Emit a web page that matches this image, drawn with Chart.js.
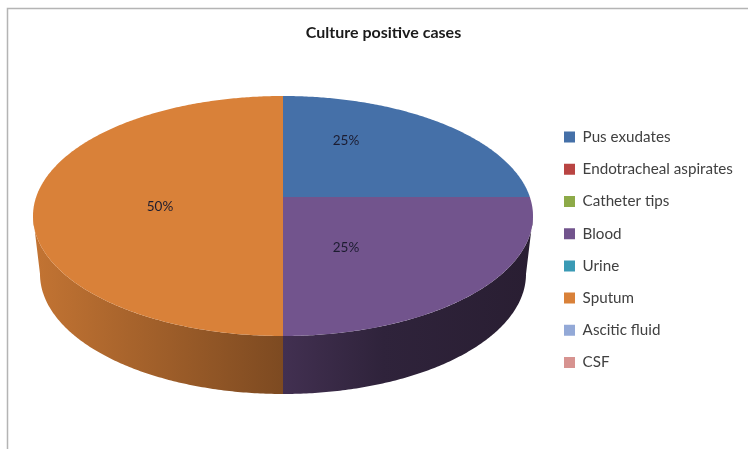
<!DOCTYPE html>
<html>
<head>
<meta charset="utf-8">
<title>Culture positive cases</title>
<script src="https://cdn.jsdelivr.net/npm/chart.js@4"></script>
<style>
  html, body { margin: 0; background: #fff; }
  canvas { display: block; }
</style>
</head>
<body>
<canvas id="pieChart" width="748" height="449"></canvas>
<script>
const categories = ["Pus exudates", "Endotracheal aspirates", "Catheter tips", "Blood", "Urine", "Sputum", "Ascitic fluid", "CSF"];
const cases = [25, 0, 0, 25, 0, 50, 0, 0];
const sliceColors = ["#4570A8", "#B94442", "#8DAA48", "#72548D", "#3A9AB5", "#D98139", "#93A9D7", "#D79390"];

// top face ellipse, bottom rim ellipse, and how far the pie's apex is pushed up by the tilt
const top3d = { cx: 283, cy: 216, rx: 250, ry: 120 };
const rim3d = { cx: 283, cy: 274, rx: 243, ry: 120 };
const tilt = -0.158;
// percent labels, offset from the centre of the top face
const labelOffsets = { 0: [63, -75], 3: [63, 32], 5: [-123, -9] };

function project(angle, e) {
  const u = Math.cos(angle), v = Math.sin(angle);
  const d = 1 + tilt * v;
  return [e.cx + e.rx * u * Math.sqrt(1 - tilt * tilt) / d, e.cy + e.ry * (v + tilt) / d];
}

function shade(hex, f) {
  const n = parseInt(hex.slice(1), 16);
  return `rgb(${(n >> 16) * f | 0},${(n >> 8 & 255) * f | 0},${(n & 255) * f | 0})`;
}

function sideGradient(ctx, color) {
  const g = ctx.createLinearGradient(top3d.cx - top3d.rx, 0, top3d.cx + top3d.rx, 0);
  g.addColorStop(0, shade(color, 0.9));
  g.addColorStop(0.5, shade(color, 0.58));
  g.addColorStop(0.7, shade(color, 0.42));
  g.addColorStop(1, shade(color, 0.36));
  return g;
}

const pie3d = {
  id: "pie3d",
  beforeDatasetsDraw(chart) {
    const ctx = chart.ctx;
    // the rim shows between the two widest points of the tilted ellipse
    const edge = Math.asin(-tilt);
    chart.getDatasetMeta(0).data.forEach((arc, i) => {
      const a0 = Math.max(arc.startAngle, edge), a1 = Math.min(arc.endAngle, Math.PI - edge);
      if (a1 <= a0) return;
      const upper = [], lower = [];
      for (let a = a0; a < a1; a += 0.01) {
        upper.push(project(a, top3d));
        lower.push(project(a, rim3d));
      }
      upper.push(project(a1, top3d));
      lower.push(project(a1, rim3d));
      ctx.beginPath();
      upper.concat(lower.reverse()).forEach(p => ctx.lineTo(p[0], p[1]));
      ctx.closePath();
      ctx.fillStyle = sideGradient(ctx, sliceColors[i]);
      ctx.fill();
    });
  },
  // the library's flat arcs are replaced by the tilted ones below
  beforeDatasetDraw: () => false,
  afterDatasetsDraw(chart) {
    const ctx = chart.ctx;
    const apexY = top3d.cy + top3d.ry * tilt;
    chart.getDatasetMeta(0).data.forEach((arc, i) => {
      if (arc.endAngle <= arc.startAngle) return;
      ctx.beginPath();
      ctx.moveTo(top3d.cx, apexY);
      for (let a = arc.startAngle; a < arc.endAngle; a += 0.01) {
        const p = project(a, top3d);
        ctx.lineTo(p[0], p[1]);
      }
      const end = project(arc.endAngle, top3d);
      ctx.lineTo(end[0], end[1]);
      ctx.closePath();
      ctx.fillStyle = sliceColors[i];
      ctx.fill();
    });

    ctx.font = "13.5px Lato";
    ctx.fillStyle = "#1c1c30";
    ctx.textAlign = "center";
    ctx.textBaseline = "middle";
    cases.forEach((v, i) => {
      if (!v) return;
      const o = labelOffsets[i];
      ctx.fillText(v + "%", top3d.cx + o[0], top3d.cy + o[1]);
    });
  }
};

const framePlugin = {
  id: "frame",
  beforeDraw(chart) {
    const ctx = chart.ctx;
    ctx.strokeStyle = "#b4b4b4";
    ctx.lineWidth = 1.5;
    ctx.beginPath();
    ctx.moveTo(7.5, 449);
    ctx.lineTo(7.5, 8.5);
    ctx.lineTo(748, 8.5);
    ctx.stroke();
  }
};

// pin the legend where the original has it
const legendSpot = {
  id: "legendSpot",
  afterLayout(chart) {
    chart.legend.left = 547;
    chart.legend.top = 112.5;
    chart.legend.bottom = 449;
  }
};

new Chart(document.getElementById("pieChart"), {
  type: "pie",
  data: {
    labels: categories,
    datasets: [{ data: cases, backgroundColor: sliceColors, borderWidth: 0 }]
  },
  options: {
    responsive: false,
    animation: false,
    layout: { padding: { left: 19 } },
    plugins: {
      title: {
        display: true,
        text: "Culture positive cases",
        color: "#1a1a1a",
        font: { family: "Lato", size: 16, weight: "bold" },
        padding: { top: 23, bottom: 10 }
      },
      legend: {
        position: "right",
        align: "start",
        labels: {
          boxWidth: 11,
          boxHeight: 11,
          padding: 17,
          color: "#404040",
          font: { family: "Lato", size: 15.2 }
        }
      },
      tooltip: { enabled: false }
    }
  },
  plugins: [framePlugin, legendSpot, pie3d]
});
</script>
</body>
</html>
